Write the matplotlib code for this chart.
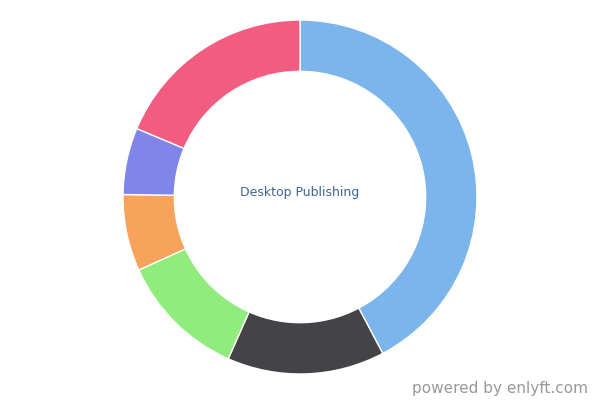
import matplotlib
matplotlib.use('Agg')
import matplotlib.pyplot as plt

# Share of each segment (percent), clockwise from 12 o'clock
labels = ['Blue', 'Dark', 'Green', 'Orange', 'Purple', 'Pink']
shares = [42.3, 14.4, 11.6, 7.0, 6.1, 18.7]
colors = ['#7cb5ec', '#434348', '#90ed7d', '#f7a35c', '#8085e9', '#f15c80']

center_title = 'Desktop Publishing'
credit = 'powered by enlyft.com'

fig = plt.figure(figsize=(6, 4), dpi=100)

# Donut centered at (300, 197) px with outer radius 177 px
ax = fig.add_axes([123 / 600, 26 / 400, 354 / 600, 354 / 400])
ax.pie(shares, colors=colors, startangle=90, counterclock=False,
       wedgeprops=dict(width=0.29, edgecolor='white', linewidth=1))
ax.set_aspect('equal')
ax.set_xlim(-1, 1)
ax.set_ylim(-1, 1)
ax.axis('off')

fig.text(300 / 600, 1 - 193 / 400, center_title, ha='center', va='center',
         fontsize=9, color='#3e6596')
fig.text(588 / 600, 1 - 389 / 400, credit, ha='right', va='center',
         fontsize=11, color='#999999')

fig.savefig('out.png', dpi=100)
